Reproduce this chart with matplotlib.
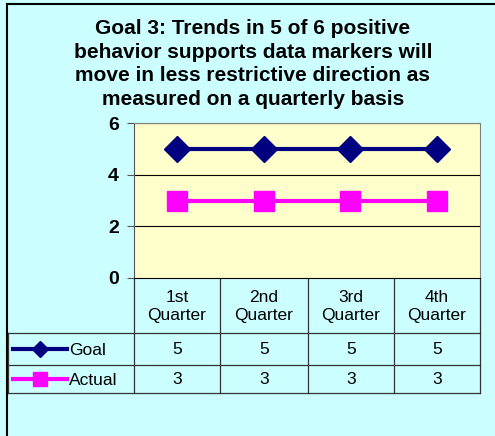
import matplotlib
matplotlib.use("Agg")
import matplotlib.pyplot as plt

plt.rcParams['font.family'] = ['Liberation Sans', 'DejaVu Sans']

categories = ["1st\nQuarter", "2nd\nQuarter", "3rd\nQuarter", "4th\nQuarter"]
series_names = ["Goal", "Actual"]
goal = [5, 5, 5, 5]
actual = [3, 3, 3, 3]
yticks = [0, 2, 4, 6]
title = ("Goal 3: Trends in 5 of 6 positive\nbehavior supports data markers will\n"
         "move in less restrictive direction as\nmeasured on a quarterly basis")

W, H = 495, 436
fig = plt.figure(figsize=(W / 100, H / 100), dpi=100)
fig.patch.set_facecolor('#CCFFFF')

# overlay axes in pixel coordinates for border/table
ov = fig.add_axes([0, 0, 1, 1])
ov.set_xlim(0, W)
ov.set_ylim(H, 0)
ov.axis('off')
ov.set_zorder(0)
ov.plot([7, 7], [4, H], color='black', lw=1.5)
ov.plot([7, W], [4, 4], color='black', lw=1.5)

# plot area
L, R, T, B = 134, 480, 123, 278
ax = fig.add_axes([L / W, 1 - B / H, (R - L) / W, (B - T) / H])
ax.set_zorder(2)
ax.set_facecolor('#FFFFCC')
ax.set_xlim(-0.5, len(categories) - 0.5)
ax.set_ylim(0, 6)
ax.set_yticks(yticks)
ax.set_yticklabels([str(v) for v in yticks], fontsize=14, fontweight='bold')
ax.set_xticks([])
for v in yticks[1:]:
    ax.axhline(v, color='black', lw=0.8, zorder=1)
ax.tick_params(axis='y', length=5, width=0.8, pad=6, color='#555555')
for s in ['top', 'right']:
    ax.spines[s].set_color('#808080')
ax.spines['left'].set_color('#555555')
ax.spines['bottom'].set_color('black')
x = list(range(len(categories)))
ax.plot(x, goal, color='#000080', lw=3, marker='D', markersize=13, zorder=3, clip_on=False)
ax.plot(x, actual, color='#FF00FF', lw=3, marker='s', markersize=15, zorder=3, clip_on=False)

fig.text(253 / W, 1 - 64 / H, title, ha='center', va='center', fontsize=15,
         fontweight='bold', linespacing=1.3)

# table
cols = [134, 220, 308, 394, 480]
rows = [278, 333, 365, 393]
lc = '#333333'
for cx in cols:
    ov.plot([cx, cx], [rows[0], rows[-1]], color=lc, lw=0.9)
ov.plot([8, 8], [rows[1], rows[-1]], color=lc, lw=0.9)
for ry in rows[1:]:
    ov.plot([8, R], [ry, ry], color=lc, lw=0.9)
fs = 12.5
for i, c in enumerate(categories):
    cx = (cols[i] + cols[i + 1]) / 2
    ov.text(cx, (rows[0] + rows[1]) / 2 + 1, c, ha='center', va='center', fontsize=fs,
            linespacing=1.2)
    ov.text(cx, (rows[1] + rows[2]) / 2, str(goal[i]), ha='center', va='center', fontsize=fs)
    ov.text(cx, (rows[2] + rows[3]) / 2, str(actual[i]), ha='center', va='center', fontsize=fs)

styles = [('#000080', 'D', 8), ('#FF00FF', 's', 10)]
for j, (name, (col, mk, ms)) in enumerate(zip(series_names, styles)):
    yy = (rows[j + 1] + rows[j + 2]) / 2
    ov.plot([13, 67], [yy, yy], color=col, lw=3)
    ov.plot([40], [yy], marker=mk, color=col, markersize=ms)
    ov.text(69, yy + 1, name, ha='left', va='center', fontsize=fs)

fig.savefig('out.png', dpi=100, facecolor=fig.get_facecolor())
